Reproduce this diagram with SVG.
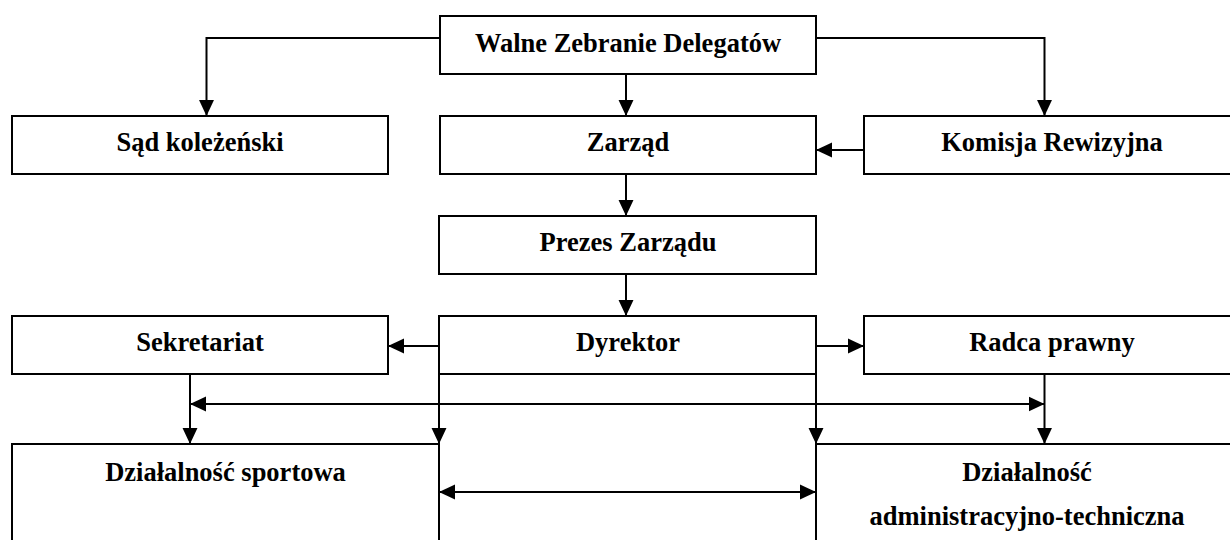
<svg xmlns="http://www.w3.org/2000/svg" width="1230" height="540" viewBox="0 0 1230 540">
  <style>
    .box { fill: #ffffff; stroke: #000000; stroke-width: 2; }
    .lbl { font-family: "Liberation Serif", "Times New Roman", serif; font-weight: bold; font-size: 26.5px; fill: #000000; text-anchor: middle; }
    .link { fill: none; stroke: #000000; stroke-width: 2; }
    .arr { marker-end: url(#head); }
    .both { marker-start: url(#tail); marker-end: url(#head); }
  </style>
  <defs>
    <marker id="head" markerUnits="userSpaceOnUse" markerWidth="16" markerHeight="16" viewBox="0 0 15 14" refX="15" refY="7" orient="auto">
      <path d="M0,0 L15,7 L0,14 Z" fill="#000000"/>
    </marker>
    <marker id="tail" markerUnits="userSpaceOnUse" markerWidth="16" markerHeight="16" viewBox="0 0 15 14" refX="0" refY="7" orient="auto">
      <path d="M15,0 L0,7 L15,14 Z" fill="#000000"/>
    </marker>
  </defs>
  <rect width="1230" height="540" fill="#ffffff"/>

  <g id="connectors">
    <path class="link arr" d="M440,38 H206.5 V116"/>
    <path class="link arr" d="M816,38 H1044.5 V116"/>
    <path class="link arr" d="M626,74 V116"/>
    <path class="link arr" d="M864,150 H816"/>
    <path class="link arr" d="M626,174 V216"/>
    <path class="link arr" d="M626,274 V316"/>
    <path class="link arr" d="M439,346 H388"/>
    <path class="link arr" d="M816,346 H864"/>
    <path class="link arr" d="M439,374 V444"/>
    <path class="link arr" d="M816,374 V444"/>
    <path class="link arr" d="M190,374 V444"/>
    <path class="link arr" d="M1044.5,374 V444"/>
    <path class="link both" d="M190,404 H1044.5"/>
    <path class="link both" d="M439,492 H816"/>
  </g>

  <g id="walne">
    <rect class="box" x="440" y="16" width="376" height="58"/>
    <text class="lbl" x="628" y="52">Walne Zebranie Delegatów</text>
  </g>
  <g id="sad">
    <rect class="box" x="12" y="116" width="376" height="58"/>
    <text class="lbl" x="200" y="151">Sąd koleżeński</text>
  </g>
  <g id="zarzad">
    <rect class="box" x="440" y="116" width="376" height="58"/>
    <text class="lbl" x="628" y="151">Zarząd</text>
  </g>
  <g id="komisja">
    <rect class="box" x="864" y="116" width="376" height="58"/>
    <text class="lbl" x="1052" y="151">Komisja Rewizyjna</text>
  </g>
  <g id="prezes">
    <rect class="box" x="439" y="216" width="377" height="58"/>
    <text class="lbl" x="628" y="251">Prezes Zarządu</text>
  </g>
  <g id="sekretariat">
    <rect class="box" x="12" y="316" width="376" height="58"/>
    <text class="lbl" x="200" y="351">Sekretariat</text>
  </g>
  <g id="dyrektor">
    <rect class="box" x="439" y="316" width="377" height="58"/>
    <text class="lbl" x="628" y="351">Dyrektor</text>
  </g>
  <g id="radca">
    <rect class="box" x="864" y="316" width="376" height="58"/>
    <text class="lbl" x="1052" y="351">Radca prawny</text>
  </g>
  <g id="sportowa">
    <rect class="box" x="12" y="444" width="427" height="120"/>
    <text class="lbl" x="225.5" y="481">Działalność sportowa</text>
  </g>
  <g id="administracyjna">
    <rect class="box" x="816" y="444" width="424" height="120"/>
    <text class="lbl" x="1027" y="481">Działalność</text>
    <text class="lbl" x="1027" y="525">administracyjno-techniczna</text>
  </g>
</svg>
